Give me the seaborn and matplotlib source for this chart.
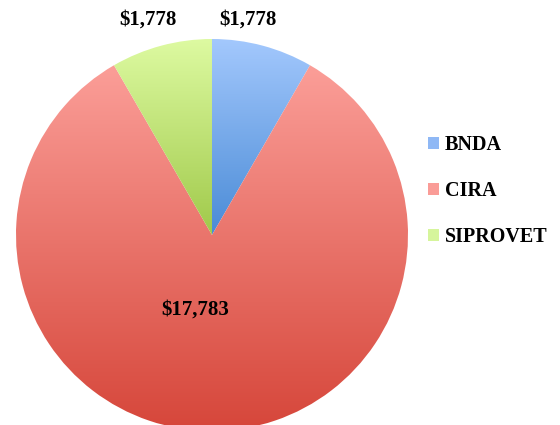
import numpy as np
import seaborn as sns
import matplotlib
matplotlib.use("Agg")
import matplotlib.pyplot as plt
from matplotlib.colors import LinearSegmentedColormap
from matplotlib.patches import Patch

categories = ["BNDA", "CIRA", "SIPROVET"]
values = [1778, 17783, 1778]
labels = ["\\$1,778", "\\$17,783", "\\$1,778"]
top_colors = ["#a3c8fd", "#fb9e98", "#ddfaa1"]
bottom_colors = ["#4a8bd6", "#d6463a", "#a0c94a"]
legend_colors = ["#8fb8f5", "#fa9c97", "#d6f59c"]

sns.set_style("white")
plt.rcParams["font.family"] = ["Liberation Serif", "DejaVu Serif"]
plt.rcParams["font.weight"] = "bold"
plt.rcParams["text.color"] = "black"

fig = plt.figure(figsize=(5.6, 4.25), dpi=100)
ax = fig.add_axes([16 / 560, -6 / 425, 392 / 560, 392 / 425])

wedges, _ = ax.pie(values, startangle=90, counterclock=False, radius=1,
                   wedgeprops=dict(edgecolor="none"))

for w, c_top, c_bot in zip(wedges, top_colors, bottom_colors):
    verts = w.get_patch_transform().transform(w.get_path().vertices)
    x0, y0 = verts.min(axis=0)
    x1, y1 = verts.max(axis=0)
    cmap = LinearSegmentedColormap.from_list("g", [c_bot, c_top])
    grad = np.linspace(0, 1, 256).reshape(-1, 1)
    w.set_facecolor("none")
    im = ax.imshow(grad, cmap=cmap, origin="lower", aspect="auto",
                   extent=[x0, x1, y0, y1], interpolation="bilinear")
    im.set_clip_path(w)

ax.set_xlim(-1, 1)
ax.set_ylim(-1, 1)
ax.set_aspect("equal")
ax.axis("off")

# value labels
label_pos = [(0.184, 1.097), (-0.087, -0.383), (-0.327, 1.097)]
for (x, y), txt in zip(label_pos, labels):
    ax.text(x, y, txt, ha="center", va="center", fontsize=15,
            fontweight="bold", color="black", clip_on=False)

handles = [Patch(facecolor=c, edgecolor="none") for c in legend_colors]
fig.legend(handles, categories, loc="center left",
           bbox_to_anchor=(428 / 560, (425 - 191) / 425), frameon=False,
           prop=dict(size=14.5, weight="bold"), labelcolor="black",
           handlelength=0.55, handleheight=0.55, handletextpad=0.28,
           labelspacing=1.3, borderpad=0, borderaxespad=0)

fig.savefig("out.png", dpi=100)
